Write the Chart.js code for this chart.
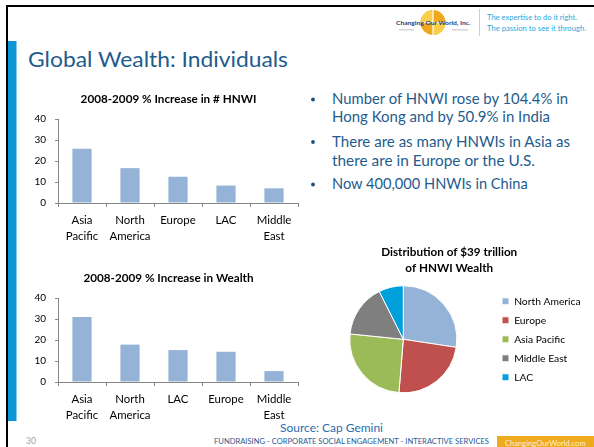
<!DOCTYPE html>
<html>
<head>
<meta charset="utf-8">
<script src="https://cdn.jsdelivr.net/npm/chart.js@4.4.1/dist/chart.umd.min.js"></script>
<style>
html, body { margin: 0; padding: 0; background: #fff; }
#slide { position: relative; width: 594px; height: 447px; overflow: hidden; background: #fff; }
#deco { position: absolute; left: 0; top: 0; }
canvas { position: absolute; }
</style>
</head>
<body>
<div id="slide">
<svg id="deco" width="594" height="447" font-family="Lato, 'Open Sans', sans-serif">
  <!-- frame -->
  <rect x="6" y="5" width="588" height="2" fill="#000"/>
  <rect x="6" y="5" width="2" height="442" fill="#000"/>
  <rect x="8" y="41" width="8.5" height="380" fill="#0B97D6"/>

  <!-- logo -->
  <g>
    <circle cx="433" cy="22.5" r="12.5" fill="#EFA81E"/>
    <path d="M433 10 A12.5 12.5 0 0 0 420.5 22.5 L433 22.5 Z" fill="#F7CF4A"/>
    <path d="M433 35 A12.5 12.5 0 0 0 445.5 22.5 L433 22.5 Z" fill="#F7CF4A"/>
    <line x1="433" y1="10" x2="433" y2="35" stroke="#fff" stroke-width="1.2"/>
    <line x1="420.5" y1="22.5" x2="445.5" y2="22.5" stroke="#fff" stroke-width="1.2"/>
    <text x="396" y="25.3" font-size="6.4" font-weight="bold" fill="#22417A" textLength="74.5" lengthAdjust="spacingAndGlyphs">Changing Our World, Inc.</text>
    <rect x="399" y="29.5" width="15" height="0.8" fill="#B0B0B0"/>
    <rect x="452" y="29.5" width="16" height="0.8" fill="#B0B0B0"/>
  </g>
  <line x1="479.5" y1="9" x2="479.5" y2="36" stroke="#F5C88A" stroke-width="1"/>
  <text x="487" y="20.3" font-size="8.3" fill="#29A8E0" textLength="90" lengthAdjust="spacingAndGlyphs">The expertise to do it right.</text>
  <text x="487" y="31" font-size="8.3" fill="#29A8E0" textLength="99" lengthAdjust="spacingAndGlyphs">The passion to see it through.</text>

  <!-- title -->
  <text x="28" y="67" font-size="22" fill="#1F5C8E" textLength="260" lengthAdjust="spacingAndGlyphs">Global Wealth: Individuals</text>

  <!-- bullets -->
  <g fill="#1F5C8E" font-size="14.7">
    <circle cx="313" cy="99.5" r="1.9" fill="#1F4F7A"/>
    <text x="332" y="104" textLength="236" lengthAdjust="spacingAndGlyphs">Number of HNWI rose by 104.4% in</text>
    <text x="332" y="122.3" textLength="218" lengthAdjust="spacingAndGlyphs">Hong Kong and by 50.9% in India</text>
    <circle cx="313" cy="142" r="1.9" fill="#1F4F7A"/>
    <text x="332" y="146.7" textLength="238" lengthAdjust="spacingAndGlyphs">There are as many HNWIs in Asia as</text>
    <text x="332" y="165.7" textLength="203" lengthAdjust="spacingAndGlyphs">there are in Europe or the U.S.</text>
    <circle cx="313" cy="184.5" r="1.9" fill="#1F4F7A"/>
    <text x="332" y="189.3" textLength="195.7" lengthAdjust="spacingAndGlyphs">Now 400,000 HNWIs in China</text>
  </g>

  <!-- footer -->
  <text x="280" y="431.5" font-size="11.7" fill="#2B6CB0" textLength="103" lengthAdjust="spacingAndGlyphs">Source: Cap Gemini</text>
  <text x="26" y="443.5" font-size="8.5" fill="#A0A0A0">30</text>
  <text x="214" y="444.3" font-size="7" fill="#1F5A93" textLength="275" lengthAdjust="spacingAndGlyphs">FUNDRAISING - CORPORATE SOCIAL ENGAGEMENT - INTERACTIVE SERVICES</text>
  <rect x="497" y="436" width="97" height="11" fill="#F0AA1E"/>
  <text x="505" y="445.5" font-size="8" fill="#FDF0D0" textLength="80.7" lengthAdjust="spacingAndGlyphs">ChangingOurWorld.com</text>
</svg>
<canvas id="c1" width="300" height="165" style="left:0px;top:85px"></canvas>
<canvas id="c2" width="300" height="165" style="left:0px;top:264px"></canvas>
<canvas id="c3" width="294" height="170" style="left:300px;top:235px"></canvas>
</div>
<script>
// ---- data ----
const hnwiTitle = '2008-2009 % Increase in # HNWI';
const hnwiCategories = [['Asia', 'Pacific'], ['North', 'America'], 'Europe', 'LAC', ['Middle', 'East']];
const hnwiIncrease = [25.8, 16.6, 12.5, 8.3, 7.0];

const wealthTitle = '2008-2009 % Increase in Wealth';
const wealthCategories = [['Asia', 'Pacific'], ['North', 'America'], 'LAC', 'Europe', ['Middle', 'East']];
const wealthIncrease = [30.9, 17.8, 15.2, 14.4, 5.2];

const yTickValues = [0, 10, 20, 30, 40];

const pieTitle = ['Distribution of $39 trillion', 'of HNWI Wealth'];
const pieLabels = ['North America', 'Europe', 'Asia Pacific', 'Middle East', 'LAC'];
const pieShares = [27.4, 23.9, 25.3, 16.0, 7.4];

// ---- styles ----
const FONT = 'Lato, "Open Sans", sans-serif';
const AXIS = '#868686';
const BAR = '#95B3D7';
const PIE_COLORS = ['#95B3D7', '#C0504D', '#9BBB59', '#7F7F7F', '#00A0DC'];
const Y_TICK_FONT = 10;
Chart.defaults.font.family = FONT;

// width of widest y tick label, so mirrored labels end 12px left of the axis
const measureCtx = document.createElement('canvas').getContext('2d');
measureCtx.font = Y_TICK_FONT + 'px ' + FONT;
const widestTick = Math.max.apply(null, yTickValues.map(function (v) { return measureCtx.measureText(String(v)).width; }));

function barChart(id, labels, values, title) {
  return new Chart(document.getElementById(id), {
    type: 'bar',
    data: {
      labels: labels,
      datasets: [{ data: values, backgroundColor: BAR, borderWidth: 0, barPercentage: 0.4, categoryPercentage: 1 }]
    },
    options: {
      responsive: false, animation: false, devicePixelRatio: 1, events: [],
      layout: { padding: { left: 39, right: 2, top: 0, bottom: 0 } },
      plugins: {
        legend: { display: false },
        tooltip: { enabled: false },
        title: {
          display: true, text: title, color: '#000',
          font: { size: 11.7, weight: 'bold', lineHeight: 1.2 },
          padding: { top: 7.6, bottom: 12.36 }
        }
      },
      scales: {
        x: {
          grid: { display: true, offset: true, drawOnChartArea: false, drawTicks: true, tickLength: 4, color: AXIS, lineWidth: 1 },
          border: { display: true, color: AXIS, width: 1 },
          ticks: { color: '#000', font: { size: 11.4, lineHeight: '16px' }, padding: 5, maxRotation: 0, minRotation: 0, autoSkip: false },
          afterFit: function (s) { s.height = 47; }
        },
        y: {
          min: yTickValues[0], max: yTickValues[yTickValues.length - 1],
          afterBuildTicks: function (s) { s.ticks = yTickValues.map(function (v) { return { value: v }; }); },
          ticks: { color: '#000', font: { size: Y_TICK_FONT }, mirror: true, crossAlign: 'far', padding: -12 - widestTick },
          grid: { drawOnChartArea: false, drawTicks: true, tickLength: 3, color: AXIS, lineWidth: 1 },
          border: { display: true, color: AXIS, width: 1 },
          afterFit: function (s) { s.width = 19; }
        }
      }
    }
  });
}

barChart('c1', hnwiCategories, hnwiIncrease, hnwiTitle);
barChart('c2', wealthCategories, wealthIncrease, wealthTitle);

new Chart(document.getElementById('c3'), {
  type: 'pie',
  data: {
    labels: pieLabels,
    datasets: [{ data: pieShares, backgroundColor: PIE_COLORS, borderColor: '#fff', borderWidth: 1, radius: 53.5 }]
  },
  options: {
    responsive: false, animation: false, devicePixelRatio: 1, events: [],
    layout: { padding: { left: 13.3, right: 8.9, top: 0, bottom: 12.7 } },
    plugins: {
      tooltip: { enabled: false },
      title: {
        display: true, text: pieTitle, color: '#000',
        font: { size: 11.7, weight: 'bold', lineHeight: '16px' },
        padding: { top: 9, bottom: 10.3 }
      },
      legend: {
        position: 'right', align: 'center', fullSize: false, maxWidth: 91.8,
        labels: { boxWidth: 7, boxHeight: 7, padding: 8.7, color: '#000', font: { size: 10.3 } }
      }
    }
  }
});
</script>
</body>
</html>
